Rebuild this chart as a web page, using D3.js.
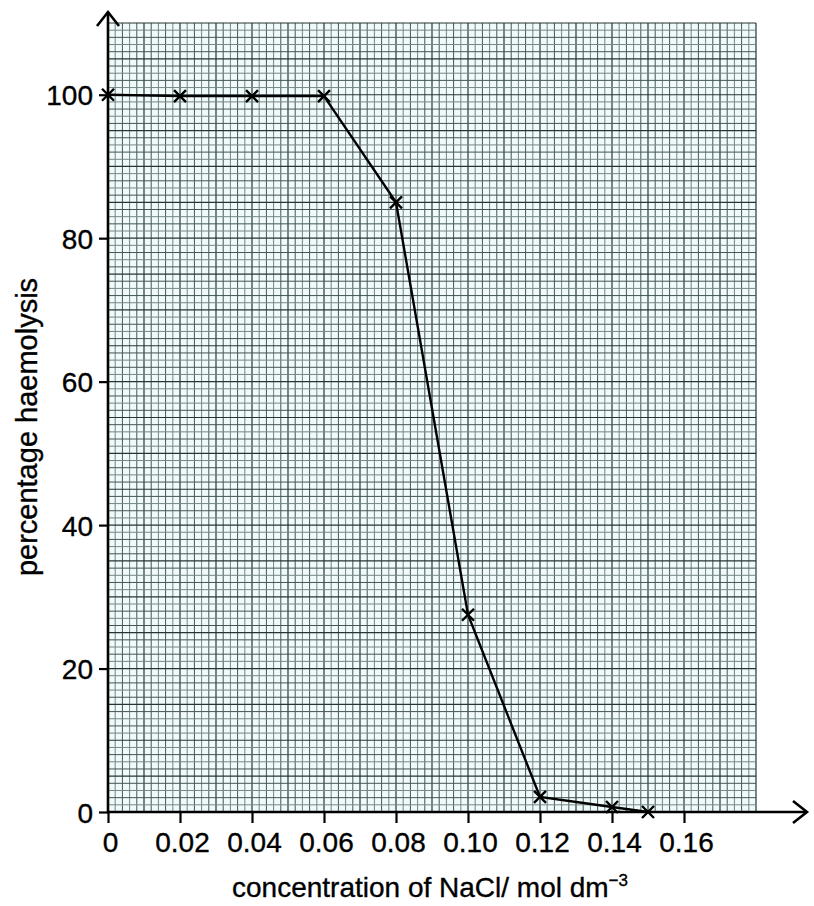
<!DOCTYPE html>
<html>
<head>
<meta charset="utf-8">
<script src="https://cdn.jsdelivr.net/npm/d3@7"></script>
<style>
  body { margin: 0; background: #fff; }
  svg { display: block; font-family: "Liberation Sans", Arial, sans-serif; }
  svg text { stroke: #000; stroke-width: 0.35px; }
</style>
</head>
<body>
<svg id="chart" width="814" height="906"></svg>
<script>
// data
var concentration = [0, 0.02, 0.04, 0.06, 0.08, 0.10, 0.12, 0.14, 0.15];
var haemolysis    = [100, 99.8, 99.8, 99.8, 85, 27.5, 2.1, 0.7, 0];
var x_ticks = [0, 0.02, 0.04, 0.06, 0.08, 0.10, 0.12, 0.14, 0.16];
var x_tick_labels = ["0", "0.02", "0.04", "0.06", "0.08", "0.10", "0.12", "0.14", "0.16"];
var y_ticks = [0, 20, 40, 60, 80, 100];

draw_graph();

// --------------------------------------------------------------------------------------
function draw_graph()
{
  var svg = d3.select("#chart");

  // plot area in pixels
  var p_left = 108, p_right = 756, p_top = 23, p_bottom = 812;

  var x = d3.scaleLinear().domain([0, 0.18]).range([p_left, p_right]);
  var y = d3.scaleLinear().domain([0, 110]).range([p_bottom, p_top]);

  // ==================================================
  // graph paper
  svg.append("rect")
     .attr("x", p_left).attr("y", p_top)
     .attr("width", p_right - p_left).attr("height", p_bottom - p_top)
     .style("fill", "#f0fafa");

  var grid = svg.append("g").attr("class", "grid");

  function grid_colour(i) {
    if(i % 5 == 0) return "#263434";
    return i % 2 ? "#768686" : "#455555";
  }

  d3.range(0, 91).forEach(function(i) {
    var v = i * 0.002;
    grid.append("line")
        .attr("x1", x(v)).attr("x2", x(v))
        .attr("y1", y(0)).attr("y2", y(110))
        .style("stroke", grid_colour(i))
        .style("stroke-width", i % 5 == 0 ? 1.2 : 1);
  });

  d3.range(0, 111).forEach(function(i) {
    grid.append("line")
        .attr("x1", x(0)).attr("x2", x(0.18))
        .attr("y1", y(i)).attr("y2", y(i))
        .style("stroke", grid_colour(i))
        .style("stroke-width", i % 5 == 0 ? 1.2 : 1);
  });

  // ==================================================
  // axes
  var x_axis = svg.append("g")
    .attr("transform", "translate(0," + y(0) + ")")
    .call(d3.axisBottom(x)
            .tickValues(x_ticks)
            .tickSize(11)
            .tickFormat(function(d, i) { return x_tick_labels[i]; }));

  x_axis.select(".domain").remove();
  x_axis.selectAll(".tick line").style("stroke", "#000").style("stroke-width", 2.2);
  x_axis.selectAll(".tick text")
        .attr("x", 2)
        .attr("y", 20)
        .attr("dy", "0.71em")
        .style("font-size", "28px")
        .style("fill", "#000");

  var y_axis = svg.append("g")
    .attr("transform", "translate(" + x(0) + ",0)")
    .call(d3.axisLeft(y).tickValues(y_ticks).tickSize(9));

  y_axis.select(".domain").remove();
  y_axis.selectAll(".tick line").style("stroke", "#000").style("stroke-width", 2.2);
  y_axis.selectAll(".tick text")
        .attr("x", -15)
        .attr("dy", "0.36em")
        .style("font-size", "28px")
        .style("fill", "#000");

  // axis lines with open arrow heads
  var y0 = y(0), x0 = x(0);
  svg.append("line")
     .attr("x1", x0 - 1).attr("x2", 806)
     .attr("y1", y0).attr("y2", y0)
     .style("stroke", "#000").style("stroke-width", 2.6);
  svg.append("path")
     .attr("d", "M793," + (y0 - 11) + "L807," + y0 + "L793," + (y0 + 11))
     .style("fill", "none").style("stroke", "#000").style("stroke-width", 2.6);

  svg.append("line")
     .attr("x1", x0).attr("x2", x0)
     .attr("y1", y0 + 1).attr("y2", 12)
     .style("stroke", "#000").style("stroke-width", 2.6);
  svg.append("path")
     .attr("d", "M" + (x0 - 11) + ",26L" + x0 + ",12L" + (x0 + 11) + ",26")
     .style("fill", "none").style("stroke", "#000").style("stroke-width", 2.6);

  // axis titles
  svg.append("text")
     .attr("x", 430)
     .attr("y", 897)
     .attr("text-anchor", "middle")
     .style("font-size", "28px")
     .style("fill", "#000")
     .html('concentration of NaCl/ mol dm<tspan dy="-11" font-size="17">\u22123</tspan>');

  svg.append("text")
     .attr("transform", "rotate(-90)")
     .attr("x", -427)
     .attr("y", 37)
     .attr("text-anchor", "middle")
     .style("font-size", "29px")
     .style("fill", "#000")
     .text("percentage haemolysis");

  // ==================================================
  // line and crosses
  var pts = concentration.map(function(c, i) { return [c, haemolysis[i]]; });

  svg.append("path")
     .datum(pts)
     .attr("d", d3.line()
                  .x(function(d) { return x(d[0]); })
                  .y(function(d) { return y(d[1]); }))
     .style("fill", "none")
     .style("stroke", "#000")
     .style("stroke-width", 2.4);

  var s = 6;
  svg.selectAll(".cross")
     .data(pts)
     .enter()
     .append("path")
     .attr("class", "cross")
     .attr("d", function(d) {
       var cx = x(d[0]), cy = y(d[1]);
       return "M" + (cx - s) + "," + (cy - s) + "L" + (cx + s) + "," + (cy + s) +
              "M" + (cx - s) + "," + (cy + s) + "L" + (cx + s) + "," + (cy - s);
     })
     .style("stroke", "#000")
     .style("stroke-width", 2.4);
}
// --------------------------------------------------------------------------------------
</script>
</body>
</html>
